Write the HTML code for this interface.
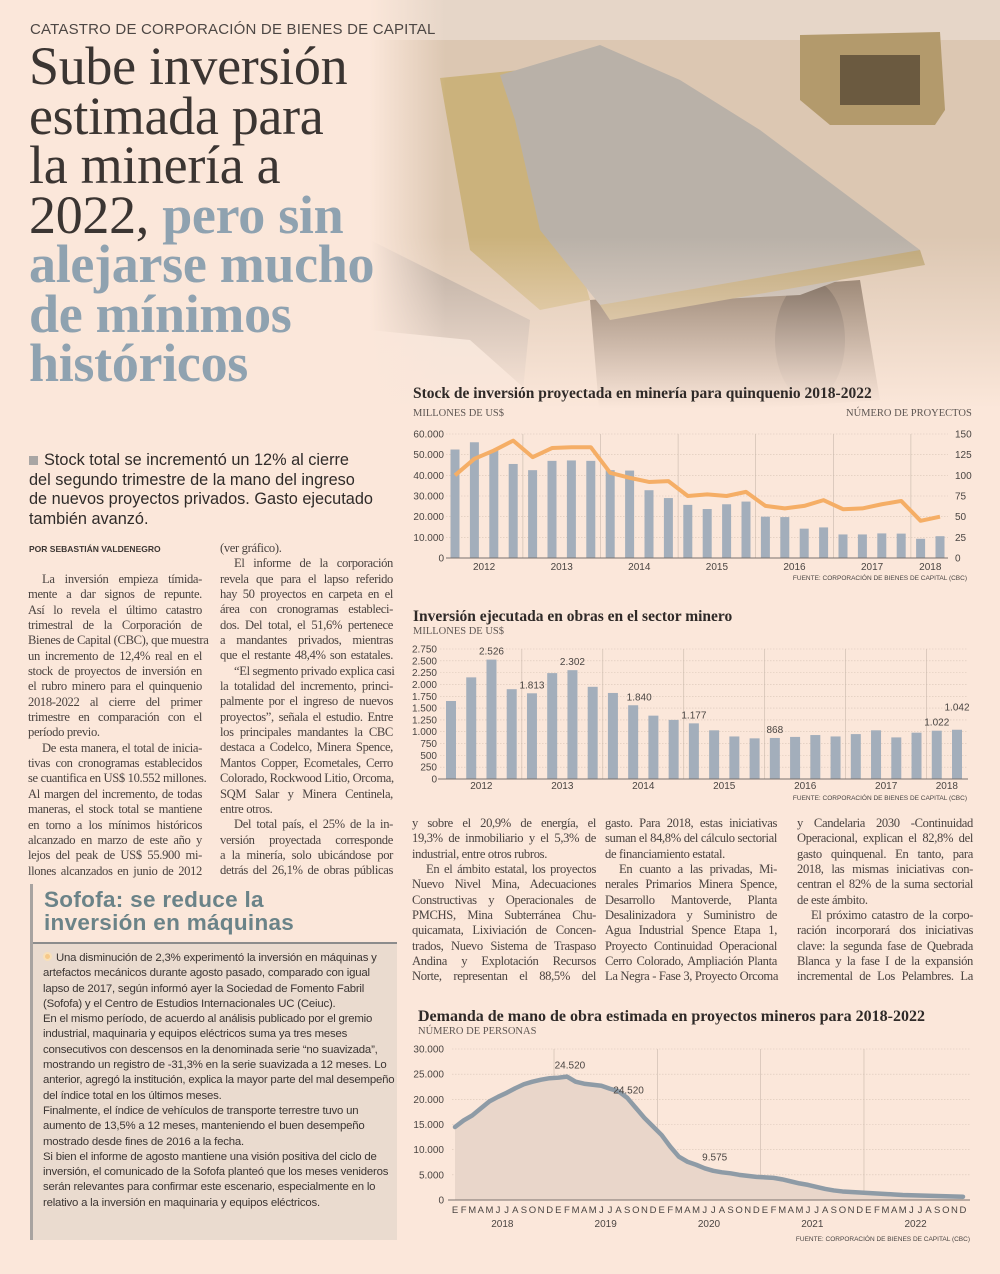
<!DOCTYPE html>
<html><head><meta charset="utf-8">
<style>
*{margin:0;padding:0;box-sizing:border-box}
body{width:1000px;height:1274px;background:#fbe7da;position:relative;overflow:hidden;font-family:"Liberation Serif",serif;color:#3a3431}
.abs{position:absolute}
.sans{font-family:"Liberation Sans",sans-serif}
.col{position:absolute;font-size:12.6px;line-height:15.35px;color:#4a4340;letter-spacing:-0.35px}
.col div{text-align:justify;text-align-last:justify;white-space:nowrap;overflow:visible}
.col div.l{text-align-last:left}
.col div.i{text-indent:14px}
.hl{position:absolute;left:29px;top:42px;font-size:54px;line-height:49.5px;color:#3b3532;letter-spacing:-0.3px}
.hl b{color:#8fa2b0}
.ctitle{position:absolute;font-weight:bold;font-size:15.5px;color:#2f2a28}
.unit{position:absolute;font-size:10.5px;color:#5d5652}
</style></head><body>

<svg class="abs" style="left:0;top:0" width="1000" height="430" viewBox="0 0 1000 430">
<defs>
<linearGradient id="fadeB" x1="0" y1="0" x2="0" y2="1"><stop offset="0.55" stop-color="#fbe7da" stop-opacity="0"/><stop offset="0.95" stop-color="#fbe7da" stop-opacity="1"/></linearGradient>
<linearGradient id="fadeL" x1="0" y1="0" x2="1" y2="0"><stop offset="0" stop-color="#fbe7da" stop-opacity="1"/><stop offset="0.12" stop-color="#fbe7da" stop-opacity="0"/></linearGradient>
</defs>
<rect x="370" y="0" width="630" height="430" fill="#dcc7b2"/>
<rect x="370" y="0" width="630" height="40" fill="#e6d6c8"/>
<polygon points="800,35 940,32 945,110 935,125 830,125 800,100" fill="#b39a6c"/>
<rect x="840" y="55" width="80" height="50" fill="#6b5a40"/>
<polygon points="370,240 530,320 520,420 370,420" fill="#b8aa9e"/>
<polygon points="370,330 470,340 560,420 370,420" fill="#efe3d9"/>
<polygon points="590,300 860,280 880,400 600,420" fill="#7f6b58"/>
<ellipse cx="810" cy="340" rx="35" ry="60" fill="#5e4e40"/>
<polygon points="440,78 520,70 545,140 590,300 540,310 470,250" fill="#cbb27c"/>
<polygon points="500,75 600,45 680,80 760,130 920,250 800,295 600,305 540,230 515,120" fill="#b9b1a8"/>
<polygon points="600,305 920,250 925,265 610,320" fill="#bda676"/>
<rect x="370" y="0" width="630" height="430" fill="url(#fadeB)"/>
<rect x="370" y="0" width="630" height="430" fill="url(#fadeL)"/>
</svg>

<div class="abs sans" style="left:30px;top:21px;font-size:15px;color:#4d4744;letter-spacing:0.2px">CATASTRO DE CORPORACIÓN DE BIENES DE CAPITAL</div>

<div class="hl">Sube inversión<br>estimada para<br>la minería a<br>2022, <b>pero sin<br>alejarse mucho<br>de mínimos<br>históricos</b></div>

<div class="abs sans" style="left:29px;top:451px;width:345px;font-size:16.3px;line-height:19.5px;color:#2f2b29"><span style="display:inline-block;width:9px;height:9px;background:#a9a6a4;margin-right:6px"></span>Stock total se incrementó un 12% al cierre del segundo trimestre de la mano del ingreso de nuevos proyectos privados. Gasto ejecutado también avanzó.</div>

<div class="abs sans" style="left:29px;top:544px;font-size:8.5px;font-weight:bold;color:#3c3633">POR SEBASTIÁN VALDENEGRO</div>

<div class="col" style="left:28px;top:572px;width:174px">
<div class="i">La inversión empieza tímida-</div><div>mente a dar signos de repunte.</div><div>Así lo revela el último catastro</div><div>trimestral de la Corporación de</div><div>Bienes de Capital (CBC), que muestra</div><div>un incremento de 12,4% real en el</div><div>stock de proyectos de inversión en</div><div>el rubro minero para el quinquenio</div><div>2018-2022 al cierre del primer</div><div>trimestre en comparación con el</div><div class="l">período previo.</div>
<div class="i">De esta manera, el total de inicia-</div><div>tivas con cronogramas establecidos</div><div>se cuantifica en US$ 10.552 millones.</div><div>Al margen del incremento, de todas</div><div>maneras, el stock total se mantiene</div><div>en torno a los mínimos históricos</div><div>alcanzado en marzo de este año y</div><div>lejos del peak de US$ 55.900 mi-</div><div>llones alcanzados en junio de 2012</div>
</div>

<div class="col" style="left:220px;top:541px;width:173px">
<div class="l">(ver gráfico).</div>
<div class="i">El informe de la corporación</div><div>revela que para el lapso referido</div><div>hay 50 proyectos en carpeta en el</div><div>área con cronogramas estableci-</div><div>dos. Del total, el 51,6% pertenece</div><div>a mandantes privados, mientras</div><div>que el restante 48,4% son estatales.</div>
<div class="i">“El segmento privado explica casi</div><div>la totalidad del incremento, princi-</div><div>palmente por el ingreso de nuevos</div><div>proyectos”, señala el estudio. Entre</div><div>los principales mandantes la CBC</div><div>destaca a Codelco, Minera Spence,</div><div>Mantos Copper, Ecometales, Cerro</div><div>Colorado, Rockwood Litio, Orcoma,</div><div>SQM Salar y Minera Centinela,</div><div class="l">entre otros.</div>
<div class="i">Del total país, el 25% de la in-</div><div>versión proyectada corresponde</div><div>a la minería, solo ubicándose por</div><div>detrás del 26,1% de obras públicas</div>
</div>

<div class="col" style="left:412px;top:816px;width:184px">
<div>y sobre el 20,9% de energía, el</div><div>19,3% de inmobiliario y el 5,3% de</div><div class="l">industrial, entre otros rubros.</div>
<div class="i">En el ámbito estatal, los proyectos</div><div>Nuevo Nivel Mina, Adecuaciones</div><div>Constructivas y Operacionales de</div><div>PMCHS, Mina Subterránea Chu-</div><div>quicamata, Lixiviación de Concen-</div><div>trados, Nuevo Sistema de Traspaso</div><div>Andina y Explotación Recursos</div><div>Norte, representan el 88,5% del</div>
</div>
<div class="col" style="left:605px;top:816px;width:172px">
<div>gasto. Para 2018, estas iniciativas</div><div>suman el 84,8% del cálculo sectorial</div><div class="l">de financiamiento estatal.</div>
<div class="i">En cuanto a las privadas, Mi-</div><div>nerales Primarios Minera Spence,</div><div>Desarrollo Mantoverde, Planta</div><div>Desalinizadora y Suministro de</div><div>Agua Industrial Spence Etapa 1,</div><div>Proyecto Continuidad Operacional</div><div>Cerro Colorado, Ampliación Planta</div><div>La Negra - Fase 3, Proyecto Orcoma</div>
</div>
<div class="col" style="left:797px;top:816px;width:176px">
<div>y Candelaria 2030 -Continuidad</div><div>Operacional, explican el 82,8% del</div><div>gasto quinquenal. En tanto, para</div><div>2018, las mismas iniciativas con-</div><div>centran el 82% de la suma sectorial</div><div class="l">de este ámbito.</div>
<div class="i">El próximo catastro de la corpo-</div><div>ración incorporará dos iniciativas</div><div>clave: la segunda fase de Quebrada</div><div>Blanca y la fase I de la expansión</div><div>incremental de Los Pelambres. La</div>
</div>

<div class="abs" style="left:30px;top:884px;width:364px;height:356px;border-left:3px solid #a8a3a0">
<div class="sans" style="position:absolute;left:11px;top:4px;font-size:22.5px;line-height:23px;font-weight:bold;color:#6b8388;letter-spacing:0.3px">Sofofa: se reduce la<br>inversión en máquinas</div>
<div style="position:absolute;left:0;top:58px;width:364px;height:298px;background:#eadbcf;border-top:2px solid #8c8c8c"></div>
<div class="sans" style="position:absolute;left:10px;top:67px;width:352px;font-size:11.4px;line-height:15.3px;color:#3b3533;letter-spacing:-0.2px"><span style="display:inline-block;width:9px;height:9px;border-radius:50%;background:#f6c98a;border:2px solid #f9e0b8;margin-right:4px"></span>Una disminución de 2,3% experimentó la inversión en máquinas y artefactos mecánicos durante agosto pasado, comparado con igual lapso de 2017, según informó ayer la Sociedad de Fomento Fabril (Sofofa) y el Centro de Estudios Internacionales UC (Ceiuc).<br>En el mismo período, de acuerdo al análisis publicado por el gremio industrial, maquinaria y equipos eléctricos suma ya tres meses consecutivos con descensos en la denominada serie “no suavizada”, mostrando un registro de -31,3% en la serie suavizada a 12 meses. Lo anterior, agregó la institución, explica la mayor parte del mal desempeño del índice total en los últimos meses.<br>Finalmente, el índice de vehículos de transporte terrestre tuvo un aumento de 13,5% a 12 meses, manteniendo el buen desempeño mostrado desde fines de 2016 a la fecha.<br>Si bien el informe de agosto mantiene una visión positiva del ciclo de inversión, el comunicado de la Sofofa planteó que los meses venideros serán relevantes para confirmar este escenario, especialmente en lo relativo a la inversión en maquinaria y equipos eléctricos.</div>
</div>

<div class="ctitle" style="left:413px;top:385px">Stock de inversión proyectada en minería para quinquenio 2018-2022</div>
<div class="unit" style="left:413px;top:408px">MILLONES DE US$</div>
<div class="unit" style="left:846px;top:408px">NÚMERO DE PROYECTOS</div>
<div class="ctitle" style="left:413px;top:608px">Inversión ejecutada en obras en el sector minero</div>
<div class="unit" style="left:413px;top:626px">MILLONES DE US$</div>
<div class="ctitle" style="left:418px;top:1008px;font-size:16px">Demanda de mano de obra estimada en proyectos mineros para 2018-2022</div>
<div class="unit" style="left:418px;top:1026px">NÚMERO DE PERSONAS</div>

<svg id="charts" class="abs" style="left:0;top:0" width="1000" height="1274"></svg>

<script>
// Chart 1 data
const c1Years = ["2012","2013","2014","2015","2016","2017","2018"];
const c1Bars = [52500,56000,52000,45500,42500,47000,47200,47000,42500,42300,32800,29000,25700,23700,26000,27300,20000,19800,14200,14800,11400,11400,11900,11800,9300,10552];
const c1Line = [100,120,130,142,122,133,134,134,103,97,92,93,75,77,75,80,63,60,63,70,59,60,65,69,45,50];
const c1LeftTicks = [0,10000,20000,30000,40000,50000,60000];
const c1RightTicks = [0,25,50,75,100,125,150];
// Chart 2 data
const c2Years = ["2012","2013","2014","2015","2016","2017","2018"];
const c2Bars = [1650,2150,2526,1900,1813,2240,2302,1950,1820,1560,1340,1250,1177,1030,900,860,868,890,930,900,950,1030,880,980,1022,1042];
const c2LabelIdx = [2,4,6,9,12,16,24,25];
const c2LabelText = ["2.526","1.813","2.302","1.840","1.177","868","1.022","1.042"];
const c2Ticks = [0,250,500,750,1000,1250,1500,1750,2000,2250,2500,2750];
// Chart 3 data
const c3Years = ["2018","2019","2020","2021","2022"];
const c3Months = ["E","F","M","A","M","J","J","A","S","O","N","D"];
const c3Values = [14500,15800,16800,18200,19600,20500,21300,22200,23000,23500,23900,24200,
 24300,24520,23500,23100,22900,22700,22100,21600,20300,18300,16300,14600,
 12900,10600,8600,7600,7000,6300,5800,5500,5300,5000,4800,4600,
 4500,4400,4100,3700,3300,3000,2600,2200,1900,1700,1600,1500,
 1400,1300,1200,1100,1000,950,900,850,800,750,700,650];
const c3LabelIdx = [13,19,29];
const c3LabelText = ["24.520","24.520","9.575"];
const c3Ticks = [0,5000,10000,15000,20000,25000,30000];

const svg = document.getElementById('charts');
const NS = "http://www.w3.org/2000/svg";
function mk(tag, attrs, parent){const e=document.createElementNS(NS,tag);for(const k in attrs)e.setAttribute(k,attrs[k]);(parent||svg).appendChild(e);return e;}
function txt(x,y,s,attrs){const t=mk('text',Object.assign({x:x,y:y,'font-family':'Liberation Sans, sans-serif','font-size':10,fill:'#4a4542'},attrs||{}));t.textContent=s;return t;}
function fmt(v){return v.toString().replace(/\B(?=(\d{3})+(?!\d))/g,'.');}

// ---- Chart 1
(function(){
  const x0=455, dx=19.4, yb=558, yt=434;
  const yL=v=>yb-(v/60000)*(yb-yt);
  const yR=v=>yb-(v/150)*(yb-yt);
  const xb=i=>x0+i*dx;
  c1LeftTicks.forEach(t=>{
    const g=mk('line',{x1:446,x2:948,y1:yL(t),y2:yL(t),stroke:'#d9c6b8','stroke-width':0.6,'stroke-dasharray':'1.5 1.5'});
    
    const l=txt(444,yL(t)+3.5,fmt(t),{'text-anchor':'end'});
    
  });
  c1RightTicks.forEach(t=>{
    const l=txt(955,yR(t)+3.5,String(t),{'text-anchor':'start'});
    
  });
  c1Years.forEach((y,k)=>{
    const start=k*4, cx = k<6 ? (xb(start)+xb(start+3))/2 : (xb(24)+xb(25))/2;
    const l=txt(cx,570,y,{'text-anchor':'middle'});
    
    if(k>0){const s=mk('line',{x1:xb(start)-dx/2,x2:xb(start)-dx/2,y1:yt,y2:yb,stroke:'#c9b8ab','stroke-width':0.6});
      }
  });
  c1Bars.forEach((v,i)=>{
    const r=mk('rect',{x:xb(i)-4.5,y:yL(v),width:9,height:yb-yL(v),fill:'#a3aebb'});
    
  });
  const ax=mk('line',{x1:446,x2:948,y1:yb,y2:yb,stroke:'#7a726e','stroke-width':1});
  
  const p=mk('polyline',{points:c1Line.map((v,i)=>xb(i)+','+yR(v)).join(' '),fill:'none',stroke:'#f5ae66','stroke-width':4,'stroke-linejoin':'round'});
  
  const s=txt(967,580,'FUENTE: CORPORACIÓN DE BIENES DE CAPITAL (CBC)',{'text-anchor':'end','font-size':6.5});
  
})();

// ---- Chart 2
(function(){
  const x0=451, dx=20.24, yb=779, yt=649;
  const y=v=>yb-(v/2750)*(yb-yt);
  const xb=i=>x0+i*dx;
  c2Ticks.forEach(t=>{
    const g=mk('line',{x1:440,x2:968,y1:y(t),y2:y(t),stroke:'#d9c6b8','stroke-width':0.6,'stroke-dasharray':'1.5 1.5'});
    
    const l=txt(437,y(t)+3.5,fmt(t),{'text-anchor':'end'});
    
  });
  c2Years.forEach((yr,k)=>{
    const start=k*4, cx = k<6 ? (xb(start)+xb(start+3))/2 : (xb(24)+xb(25))/2;
    const l=txt(cx,789,yr,{'text-anchor':'middle'});
    
    if(k>0){const s=mk('line',{x1:xb(start)-dx/2,x2:xb(start)-dx/2,y1:yt,y2:yb,stroke:'#c9b8ab','stroke-width':0.6});
      }
  });
  c2Bars.forEach((v,i)=>{
    const r=mk('rect',{x:xb(i)-5,y:y(v),width:10,height:yb-y(v),fill:'#a3aebb'});
    
  });
  c2LabelIdx.forEach((i,k)=>{
    const ly = y(c2Bars[i]) - 5 - (i===25?14:0);
    const l=txt(xb(i)+(i===9?6:0),ly,c2LabelText[k],{'text-anchor':'middle'});
    
  });
  const ax=mk('line',{x1:438,x2:968,y1:yb,y2:yb,stroke:'#7a726e','stroke-width':1});
  
  const s=txt(967,800,'FUENTE: CORPORACIÓN DE BIENES DE CAPITAL (CBC)',{'text-anchor':'end','font-size':6.5});
  
})();

// ---- Chart 3
(function(){
  const x0=455, dx=8.61, yb=1200, yt=1049;
  const y=v=>yb-(v/30000)*(yb-yt);
  const xm=i=>x0+i*dx;
  c3Ticks.forEach(t=>{
    const g=mk('line',{x1:452,x2:970,y1:y(t),y2:y(t),stroke:'#d9c6b8','stroke-width':0.6,'stroke-dasharray':'1.5 1.5'});
    
    const l=txt(444,y(t)+3.5,fmt(t),{'text-anchor':'end'});
    
  });
  c3Years.forEach((yr,k)=>{
    const l=txt((xm(k*12)+xm(k*12+11))/2,1227,yr,{'text-anchor':'middle'});
    
    if(k>0){const s=mk('line',{x1:xm(k*12)-dx/2,x2:xm(k*12)-dx/2,y1:yt,y2:yb,stroke:'#c9b8ab','stroke-width':0.6});
      }
    c3Months.forEach((m,j)=>{
      const t=txt(xm(k*12+j),1213,m,{'text-anchor':'middle','font-size':9.5});
      
    });
  });
  const pts=c3Values.map((v,i)=>xm(i)+','+y(v));
  const a=mk('polygon',{points:xm(0)+','+yb+' '+pts.join(' ')+' '+xm(c3Values.length-1)+','+yb,fill:'#e9d6ca'});
  
  const ax=mk('line',{x1:448,x2:970,y1:yb,y2:yb,stroke:'#7a726e','stroke-width':1});
  
  const p=mk('polyline',{points:pts.join(' '),fill:'none',stroke:'#8e9ba6','stroke-width':4.5,'stroke-linejoin':'round','stroke-linecap':'round'});
  
  c3LabelIdx.forEach((i,k)=>{
    const l=txt(xm(i)+(k===0?3:10),y(c3Values[i])-(k===1?-2:8),c3LabelText[k],{'text-anchor':'middle'});
    
  });
  const s=txt(970,1241,'FUENTE: CORPORACIÓN DE BIENES DE CAPITAL (CBC)',{'text-anchor':'end','font-size':6.5});
  
})();
</script>
</body></html>
